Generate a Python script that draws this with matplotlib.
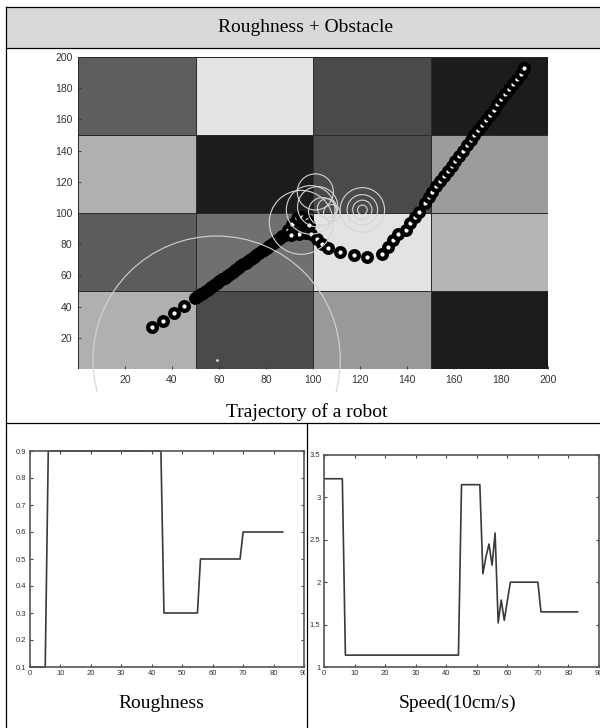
import numpy as np
import matplotlib.pyplot as plt
from matplotlib.lines import Line2D
from matplotlib.patches import Rectangle
from matplotlib.transforms import Bbox, TransformedBbox

W, H = 600, 728

# gray level of the 4x4 field, bottom row first (0 = black, 1 = white)
cell_shade = np.array([
    [0.69, 0.29, 0.60, 0.11],
    [0.36, 0.44, 0.89, 0.71],
    [0.69, 0.11, 0.29, 0.61],
    [0.37, 0.89, 0.29, 0.11],
])
cell_edges = [0, 50, 100, 150, 200]
field_ticks = [20, 40, 60, 80, 100, 120, 140, 160, 180, 200]

# robot positions
traj_x = [31.5, 36.0, 40.9, 45.3, 49.9,
          51.2, 52.3, 53.4, 54.6, 55.7, 56.8, 57.9, 59.0, 60.2, 61.3,
          62.4, 63.5, 64.6, 65.8, 66.9, 68.0, 69.1, 70.2, 71.4, 72.5,
          73.6, 74.7, 75.8, 77.0, 78.1, 79.2, 80.3, 81.4, 82.6, 83.7,
          84.8, 85.9, 87.0, 88.2, 89.3, 90.4, 91.5, 92.6,
          92.5, 93.5, 94.5, 95.0, 94.0, 95.5, 96.0, 94.5, 97.0, 93.0,
          89.5, 91.0, 93.0, 95.5, 97.5, 98.5, 97.0, 94.0, 90.5,
          99.0, 101.5, 104.0, 106.5, 111.5, 117.4, 123.1, 129.2,
          132.1, 134.2, 136.2, 139.4, 141.1, 143.5, 145.1, 147.6, 149.2,
          150.8, 152.4, 154.1, 155.7, 157.3, 159.0, 160.6, 162.2, 163.8,
          165.5, 167.1, 168.7, 170.4, 172.0, 173.6, 175.3, 176.9, 178.5,
          180.1, 181.8, 183.4, 185.0, 186.7, 188.3, 189.9]
traj_y = [27.1, 31.0, 35.7, 40.4, 45.3,
          46.6, 47.8, 49.0, 50.2, 51.4, 52.6, 53.8, 55.0, 56.2, 57.4,
          58.6, 59.8, 61.0, 62.2, 63.4, 64.6, 65.8, 67.0, 68.2, 69.4,
          70.6, 71.8, 73.0, 74.2, 75.4, 76.6, 77.8, 79.0, 80.2, 81.4,
          82.6, 83.8, 85.0, 86.2, 87.4, 88.6, 89.8, 91.0,
          93.0, 95.0, 96.0, 94.0, 92.0, 91.5, 89.5, 89.0, 88.0, 90.0,
          89.0, 93.0, 96.5, 97.5, 95.5, 92.0, 87.0, 86.5, 86.0,
          86.5, 83.5, 80.0, 77.4, 75.2, 73.1, 72.0, 73.7,
          78.4, 82.5, 86.5, 89.1, 93.4, 97.6, 100.8, 106.2, 110.4,
          113.7, 117.0, 120.3, 123.6, 126.9, 130.2, 133.4, 136.7, 140.0,
          143.3, 146.6, 149.9, 153.2, 156.5, 159.8, 163.1, 166.3, 169.6,
          172.9, 176.2, 179.5, 182.8, 186.1, 189.4, 192.7]

# sensing circles (light gray), diameter in points
sense_x = [59, 95, 101, 121, 121, 121, 121, 99, 102, 104, 106, 108]
sense_y = [6, 94, 113.5, 102, 102, 102, 102, 102, 104, 101, 103, 100]
sense_d = [178, 46, 26, 32, 22, 14, 7, 35, 29, 20, 14, 12]

# roughness and speed per time step
rough_levels = [0.1, 0.9, 0.3, 0.5, 0.6]
rough_counts = [6, 38, 12, 14, 14]
speed = ([3.22] * 7 + [1.14] * 38 + [3.15] * 7
         + [2.10, 2.30, 2.45, 2.20, 2.58, 1.52, 1.79, 1.55, 1.78]
         + [2.0] * 10 + [1.65] * 13)

rough = np.repeat(rough_levels, rough_counts)
steps = np.arange(len(speed))


def fbox(x0, y0, x1, y1):
    # pixel box (top-left origin) -> figure fraction rect
    return [x0 / W, 1 - y1 / H, (x1 - x0) / W, (y1 - y0) / H]


def hline(y, x0, x1):
    fig.add_artist(Line2D([x0 / W, x1 / W], [1 - y / H, 1 - y / H],
                          transform=fig.transFigure, color='black', lw=0.9,
                          zorder=10))


def vline(x, y0, y1):
    fig.add_artist(Line2D([x / W, x / W], [1 - y0 / H, 1 - y1 / H],
                          transform=fig.transFigure, color='black', lw=0.9,
                          zorder=10))


fig = plt.figure(figsize=(W / 100, H / 100), dpi=100)
fig.patch.set_facecolor('white')

# table frame
fig.add_artist(Rectangle((6 / W, 1 - 48 / H), 594 / W, 41 / H,
                         transform=fig.transFigure, facecolor='#d9d9d9',
                         edgecolor='none'))
hline(7, 6, 600)
hline(48, 6, 600)
hline(423, 6, 600)
vline(6, 7, 728)
vline(307, 423, 728)

fig.text(306 / W, 1 - 28 / H, 'Roughness + Obstacle', ha='center', va='center',
         family='Liberation Serif', fontsize=14)
fig.text(307 / W, 1 - 412 / H, 'Trajectory of a robot', ha='center', va='center',
         family='Liberation Serif', fontsize=14)
fig.text(161 / W, 1 - 704 / H, 'Roughness', ha='center', va='center',
         family='Liberation Serif', fontsize=14)
fig.text(458 / W, 1 - 703 / H, 'Speed(10cm/s)', ha='center', va='center',
         family='Liberation Serif', fontsize=14)

# trajectory field
ax = fig.add_axes(fbox(78, 57, 548, 369))
ax.pcolormesh(cell_edges, cell_edges, cell_shade, cmap='gray', vmin=0, vmax=1,
              edgecolors='#2a2a2a', linewidth=0.6)
ax.plot(traj_x, traj_y, ls='none', marker='o', ms=6.2, mew=3.1,
        mfc='white', mec='black', zorder=3)
ax.scatter(sense_x[1:], sense_y[1:], s=np.array(sense_d[1:]) ** 2,
           facecolors='none', edgecolors='#d4d4d4', linewidths=0.8, zorder=4)
big = ax.scatter(sense_x[:1], sense_y[:1], s=np.array(sense_d[:1]) ** 2,
                 facecolors='none', edgecolors='#d4d4d4', linewidths=0.8,
                 zorder=4, clip_on=False)
big.set_clip_path(None)
big.set_clip_box(TransformedBbox(Bbox([[0, 1 - 392 / H], [1, 1]]), fig.transFigure))
big.set_clip_on(True)
ax.plot([59], [6], ls='none', marker='.', ms=2, color='#dddddd', zorder=4)
ax.set_xlim(0, 200)
ax.set_ylim(0, 200)
ax.set_xticks(field_ticks)
ax.set_yticks(field_ticks)
for s in ax.spines.values():
    s.set_visible(False)
ax.tick_params(direction='in', length=2.5, width=0.6, color='#333333',
               labelsize=7.5, labelcolor='#333333', pad=4)
for lbl in ax.get_xticklabels() + ax.get_yticklabels():
    lbl.set_family('Liberation Sans')


def style_small(a):
    for s in a.spines.values():
        s.set_color('#555555')
        s.set_linewidth(1.2)
    a.tick_params(direction='in', length=2.5, width=0.8, color='#444444',
                  top=True, right=True, labelsize=5.5, labelcolor='#333333',
                  pad=2.5)
    for lbl in a.get_xticklabels() + a.get_yticklabels():
        lbl.set_family('Liberation Sans')


# roughness
ax1 = fig.add_axes(fbox(30, 451, 304, 667))
ax1.plot(steps, rough, color='#3a3a3a', lw=1.2, clip_on=False)
ax1.set_xlim(0, 90)
ax1.set_ylim(0.1, 0.9)
ax1.set_xticks(range(0, 91, 10))
ax1.set_yticks([0.1, 0.2, 0.3, 0.4, 0.5, 0.6, 0.7, 0.8, 0.9])
ax1.set_yticklabels(['0.1', '0.2', '0.3', '0.4', '0.5', '0.6', '0.7', '0.8', '0.9'])
style_small(ax1)

# speed
ax2 = fig.add_axes(fbox(324, 455, 599, 667))
ax2.plot(steps, speed, color='#3a3a3a', lw=1.2)
ax2.set_xlim(0, 90)
ax2.set_ylim(1, 3.5)
ax2.set_xticks(range(0, 91, 10))
ax2.set_yticks([1, 1.5, 2, 2.5, 3, 3.5])
ax2.set_yticklabels(['1', '1.5', '2', '2.5', '3', '3.5'])
style_small(ax2)

# the source image is cut at the cell border, hiding half of the last "90"
fig.add_artist(Rectangle((305 / W, 1 - 682 / H), 7 / W, 13 / H,
                         transform=fig.transFigure, facecolor='white',
                         edgecolor='none', zorder=9))

fig.savefig('out.png', dpi=100, facecolor='white')
